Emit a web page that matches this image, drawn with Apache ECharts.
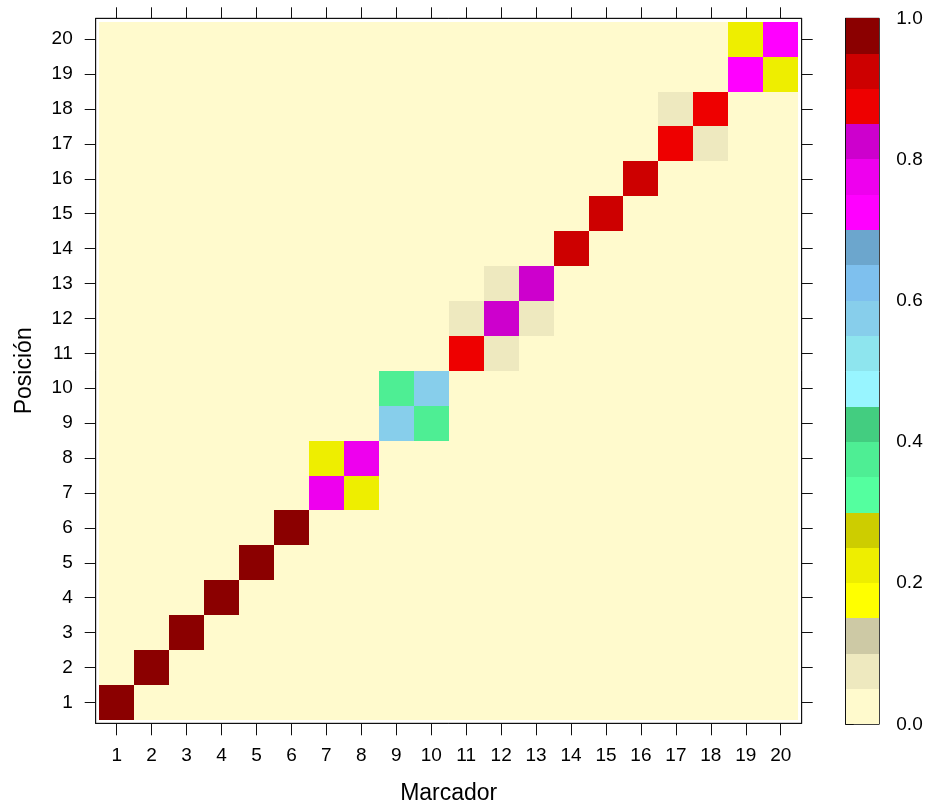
<!DOCTYPE html>
<html>
<head>
<meta charset="utf-8">
<script src="https://cdn.jsdelivr.net/npm/echarts@6/dist/echarts.min.js"></script>
<style>
html,body{margin:0;padding:0;background:#fff;}
#chart{width:925px;height:805px;}
</style>
</head>
<body>
<div id="chart"></div>
<script>
// Axis categories
const marcadores = [1,2,3,4,5,6,7,8,9,10,11,12,13,14,15,16,17,18,19,20];
const posiciones = [1,2,3,4,5,6,7,8,9,10,11,12,13,14,15,16,17,18,19,20];

// Probability matrix: one row per Marcador, entries ordered by Posición 1..20
const probabilidad = [
  [0.98,0,0,0,0,0,0,0,0,0,0,0,0,0,0,0,0,0,0,0],
  [0,0.98,0,0,0,0,0,0,0,0,0,0,0,0,0,0,0,0,0,0],
  [0,0,0.98,0,0,0,0,0,0,0,0,0,0,0,0,0,0,0,0,0],
  [0,0,0,0.98,0,0,0,0,0,0,0,0,0,0,0,0,0,0,0,0],
  [0,0,0,0,0.98,0,0,0,0,0,0,0,0,0,0,0,0,0,0,0],
  [0,0,0,0,0,0.98,0,0,0,0,0,0,0,0,0,0,0,0,0,0],
  [0,0,0,0,0,0,0.77,0.22,0,0,0,0,0,0,0,0,0,0,0,0],
  [0,0,0,0,0,0,0.22,0.77,0,0,0,0,0,0,0,0,0,0,0,0],
  [0,0,0,0,0,0,0,0,0.58,0.38,0,0,0,0,0,0,0,0,0,0],
  [0,0,0,0,0,0,0,0,0.38,0.58,0,0,0,0,0,0,0,0,0,0],
  [0,0,0,0,0,0,0,0,0,0,0.88,0.08,0,0,0,0,0,0,0,0],
  [0,0,0,0,0,0,0,0,0,0,0.07,0.83,0.07,0,0,0,0,0,0,0],
  [0,0,0,0,0,0,0,0,0,0,0,0.08,0.83,0,0,0,0,0,0,0],
  [0,0,0,0,0,0,0,0,0,0,0,0,0,0.93,0,0,0,0,0,0],
  [0,0,0,0,0,0,0,0,0,0,0,0,0,0,0.93,0,0,0,0,0],
  [0,0,0,0,0,0,0,0,0,0,0,0,0,0,0,0.93,0,0,0,0],
  [0,0,0,0,0,0,0,0,0,0,0,0,0,0,0,0,0.88,0.08,0,0],
  [0,0,0,0,0,0,0,0,0,0,0,0,0,0,0,0,0.08,0.88,0,0],
  [0,0,0,0,0,0,0,0,0,0,0,0,0,0,0,0,0,0,0.73,0.23],
  [0,0,0,0,0,0,0,0,0,0,0,0,0,0,0,0,0,0,0.23,0.73]
];

// Colour key: bin breaks and colours (bottom to top)
const breaks = [0,0.05,0.1,0.15,0.2,0.25,0.3,0.35,0.4,0.45,0.5,0.55,0.6,0.65,0.7,0.75,0.8,0.85,0.9,0.95,1.0];
const binColors = ['#FFFACD','#EEE9BF','#CDC9A5','#FFFF00','#EEEE00','#CDCD00','#54FF9F','#4EEE94','#43CD80',
  '#98F5FF','#8EE5EE','#87CEEB','#7EC0EE','#6CA6CD','#FF00FF','#EE00EE','#CD00CD','#EE0000','#CD0000','#8B0000'];
const keyTicks = [0,0.2,0.4,0.6,0.8,1.0];

function colorFor(v){
  for (let i = 0; i < binColors.length; i++) {
    if (v >= breaks[i] && v < breaks[i+1]) return binColors[i];
  }
  return binColors[binColors.length-1];
}

const cellData = [];
marcadores.forEach((m, i) => {
  posiciones.forEach((p, j) => {
    cellData.push([m, p, probabilidad[i][j]]);
  });
});
const keyData = binColors.map((c, i) => [breaks[i], breaks[i+1], i]);

const FONT = 'Liberation Sans, Arial, sans-serif';
const tickFont = {fontFamily: FONT, fontSize: 19, color: '#000'};
const lineCol = '#111';

const chart = echarts.init(document.getElementById('chart'), null, {renderer: 'canvas'});
chart.setOption({
  animation: false,
  backgroundColor: '#fff',
  grid: [
    {left: 95.7, top: 18.3, width: 706, height: 705, show: true, borderColor: lineCol, borderWidth: 1, backgroundColor: '#fff', containLabel: false, outerBoundsMode: 'none'},
    {left: 845.7, top: 18.3, width: 33.6, height: 706, show: true, borderColor: lineCol, borderWidth: 1, backgroundColor: 'transparent', containLabel: false, outerBoundsMode: 'none'}
  ],
  xAxis: [
    {gridIndex: 0, type: 'value', min: 0.4, max: 20.6, position: 'bottom',
     name: 'Marcador', nameLocation: 'middle', nameGap: 59,
     nameTextStyle: {fontFamily: FONT, fontSize: 23, color: '#000'},
     axisLine: {show: true, lineStyle: {color: lineCol, width: 1}},
     axisTick: {show: true, customValues: marcadores, length: 12, lineStyle: {color: lineCol, width: 1}},
     axisLabel: Object.assign({show: true, customValues: marcadores, margin: 23}, tickFont),
     splitLine: {show: false}},
    {gridIndex: 0, type: 'value', min: 0.4, max: 20.6, position: 'top',
     axisLine: {show: true, lineStyle: {color: lineCol, width: 1}},
     axisTick: {show: true, customValues: marcadores, length: 11, lineStyle: {color: lineCol, width: 1}},
     axisLabel: {show: false}, splitLine: {show: false}},
    {gridIndex: 1, type: 'value', min: 0, max: 1, show: false}
  ],
  yAxis: [
    {gridIndex: 0, type: 'value', min: 0.4, max: 20.6, position: 'left',
     name: 'Posición', nameLocation: 'middle', nameGap: 60, nameRotate: 90,
     nameTextStyle: {fontFamily: FONT, fontSize: 23, color: '#000'},
     axisLine: {show: true, lineStyle: {color: lineCol, width: 1}},
     axisTick: {show: true, customValues: posiciones, length: 11, lineStyle: {color: lineCol, width: 1}},
     axisLabel: Object.assign({show: true, customValues: posiciones, margin: 23}, tickFont),
     splitLine: {show: false}},
    {gridIndex: 0, type: 'value', min: 0.4, max: 20.6, position: 'right',
     axisLine: {show: true, lineStyle: {color: lineCol, width: 1}},
     axisTick: {show: true, customValues: posiciones, length: 11, lineStyle: {color: lineCol, width: 1}},
     axisLabel: {show: false}, splitLine: {show: false}},
    {gridIndex: 1, type: 'value', min: 0, max: 1, position: 'right',
     axisLine: {show: true, lineStyle: {color: lineCol, width: 1}},
     axisTick: {show: true, customValues: keyTicks, length: 8, lineStyle: {color: lineCol, width: 1}},
     axisLabel: Object.assign({show: true, customValues: keyTicks, margin: 17,
       formatter: v => Number(v).toFixed(1)}, tickFont),
     splitLine: {show: false}}
  ],
  series: [
    {type: 'custom', xAxisIndex: 0, yAxisIndex: 0, data: cellData, silent: true,
     renderItem: function(params, api){
       const x = api.value(0), y = api.value(1), v = api.value(2);
       const p0 = api.coord([x - 0.5, y + 0.5]);
       const p1 = api.coord([x + 0.5, y - 0.5]);
       const x0 = Math.round(p0[0]), y0 = Math.round(p0[1]);
       const x1 = Math.round(p1[0]), y1 = Math.round(p1[1]);
       return {type: 'rect', shape: {x: x0, y: y0, width: x1 - x0, height: y1 - y0},
               style: {fill: colorFor(v), stroke: null}};
     }},
    {type: 'custom', xAxisIndex: 2, yAxisIndex: 2, data: keyData, silent: true, z: 1,
     renderItem: function(params, api){
       const lo = api.value(0), hi = api.value(1), idx = api.value(2);
       const p0 = api.coord([0, hi]);
       const p1 = api.coord([1, lo]);
       const x0 = Math.round(p0[0]), y0 = Math.round(p0[1]);
       const x1 = Math.round(p1[0]), y1 = Math.round(p1[1]);
       return {type: 'rect', shape: {x: x0, y: y0, width: x1 - x0, height: y1 - y0},
               style: {fill: binColors[idx], stroke: null}};
     }}
  ]
});
</script>
</body>
</html>
